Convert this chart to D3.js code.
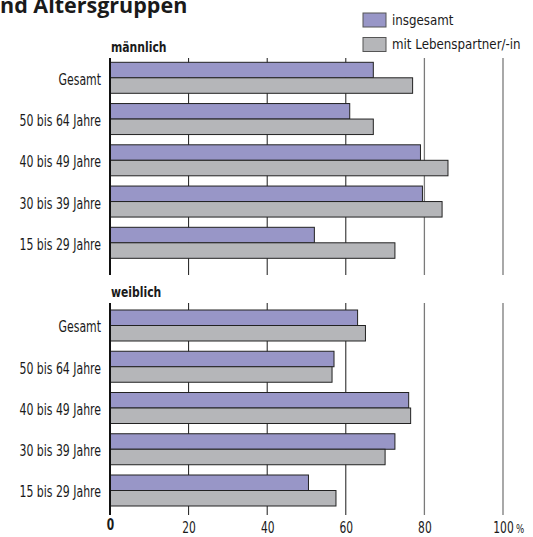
<!DOCTYPE html>
<html>
<head>
<meta charset="utf-8">
<script src="https://cdn.jsdelivr.net/npm/d3@7/dist/d3.min.js"></script>
<style>
  html, body { margin: 0; padding: 0; background: #fff; }
  svg { display: block; }
  .cond { font-family: "DejaVu Sans Condensed", "Liberation Sans Narrow", sans-serif; }
</style>
</head>
<body>
<svg id="chart" width="533" height="537"></svg>
<script>
// Anteile in Prozent, je Altersgruppe
const categories = ["Gesamt", "50 bis 64 Jahre", "40 bis 49 Jahre", "30 bis 39 Jahre", "15 bis 29 Jahre"];
const maleInsgesamt = [67, 61, 79, 79.5, 52];
const maleMitPartner = [77, 67, 86, 84.5, 72.5];
const femaleInsgesamt = [63, 57, 76, 72.5, 50.5];
const femaleMitPartner = [65, 56.5, 76.5, 70, 57.5];
const xTicks = [0, 20, 40, 60, 80, 100];
const seriesNames = ["insgesamt", "mit Lebenspartner/-in"];
const panelNames = ["männlich", "weiblich"];

const COL_PURPLE = "#9896c7";
const COL_GREY = "#b5b6b9";
const colors = [COL_PURPLE, COL_GREY];

const svg = d3.select("#chart");
const x = d3.scaleLinear().domain([0, 100]).range([110, 503]);

// schmalere Schrift: horizontal um den Ankerpunkt stauchen
function squeeze(sel, sx) {
  sel.attr("transform", function () {
    const tx = +this.getAttribute("x") || 0;
    const ty = +this.getAttribute("y") || 0;
    return `translate(${tx},${ty}) scale(${sx},1) translate(${-tx},${-ty})`;
  });
}

const panels = [
  { name: panelNames[0], a: maleInsgesamt, b: maleMitPartner, top: 58, bottom: 275, band: [62.3, 258.3], labelY: 52 },
  { name: panelNames[1], a: femaleInsgesamt, b: femaleMitPartner, top: 303, bottom: 515, band: [310, 506], labelY: 297 }
];

// Titel
svg.append("text")
  .attr("x", 0)
  .attr("y", 13)
  .attr("font-family", "'Open Sans', 'Liberation Sans', sans-serif")
  .attr("font-weight", "bold")
  .attr("font-size", 21.5)
  .attr("fill", "#1a1a1a")
  .text("nd Altersgruppen");

panels.forEach(p => {
  const g = svg.append("g");
  const y = d3.scaleBand().domain(categories).range(p.band).paddingInner(0.2485).paddingOuter(0);
  const h = y.bandwidth() / 2;

  // Gitterlinien
  g.selectAll("line.grid").data(xTicks.slice(1)).join("line")
    .attr("class", "grid")
    .attr("x1", d => x(d)).attr("x2", d => x(d))
    .attr("y1", p.top).attr("y2", p.bottom)
    .attr("stroke", d => d >= 80 ? "#7a7a7a" : "#1a1a1a")
    .attr("stroke-width", d => d >= 80 ? 1.3 : 1);

  // Balken
  [p.a, p.b].forEach((vals, si) => {
    g.selectAll("rect.s" + si).data(categories).join("rect")
      .attr("class", "s" + si)
      .attr("x", x(0))
      .attr("y", d => y(d) + si * h)
      .attr("width", (d, i) => x(vals[i]) - x(0))
      .attr("height", h)
      .attr("fill", colors[si])
      .attr("stroke", "#222")
      .attr("stroke-width", 1);
  });

  // Nulllinie
  g.append("line")
    .attr("x1", x(0)).attr("x2", x(0))
    .attr("y1", p.top).attr("y2", p.bottom)
    .attr("stroke", "#111").attr("stroke-width", 2);

  // Kategorien
  g.selectAll("text.cat").data(categories).join("text")
    .attr("class", "cat cond")
    .attr("x", 101)
    .attr("y", d => y(d) + y.bandwidth() / 2 + 7)
    .attr("text-anchor", "end")
    .attr("font-size", 15)
    .attr("fill", "#1a1a1a")
    .text(d => d)
    .call(squeeze, 0.81);

  // Panel-Überschrift
  g.append("text")
    .attr("class", "cond")
    .attr("x", 111)
    .attr("y", p.labelY)
    .attr("font-size", 14.5)
    .attr("font-weight", "bold")
    .attr("fill", "#1a1a1a")
    .text(p.name)
    .call(squeeze, 0.83);
});

// x-Achse
const axis = d3.axisBottom(x).tickValues(xTicks).tickSize(0).tickFormat(d3.format("d"));
const ax = svg.append("g").attr("transform", "translate(0,517)").call(axis);
ax.select(".domain").remove();
ax.selectAll(".tick text")
  .attr("class", "cond")
  .attr("font-family", null)
  .attr("font-size", 16.5)
  .attr("fill", "#1a1a1a")
  .attr("dy", null)
  .attr("y", d => d === 0 ? 12.5 : 16)
  .attr("font-weight", d => d === 0 ? "bold" : "normal")
  .call(squeeze, 0.72);
ax.selectAll(".tick").filter(d => d === 100).append("text")
  .attr("class", "cond")
  .attr("x", 12.5)
  .attr("y", 16)
  .attr("font-size", 12)
  .attr("fill", "#1a1a1a")
  .attr("text-anchor", "start")
  .text("%")
  .call(squeeze, 0.8);

// Legende
const legend = svg.append("g");
seriesNames.forEach((name, i) => {
  const ly = 13 + i * 24.5;
  legend.append("rect")
    .attr("x", 363).attr("y", ly)
    .attr("width", 23).attr("height", 14)
    .attr("fill", colors[i])
    .attr("stroke", "#555").attr("stroke-width", 1);
  legend.append("text")
    .attr("class", "cond")
    .attr("x", 392).attr("y", ly + 12)
    .attr("font-size", 14.5)
    .attr("fill", "#1a1a1a")
    .text(name)
    .call(squeeze, 0.91);
});
</script>
</body>
</html>
